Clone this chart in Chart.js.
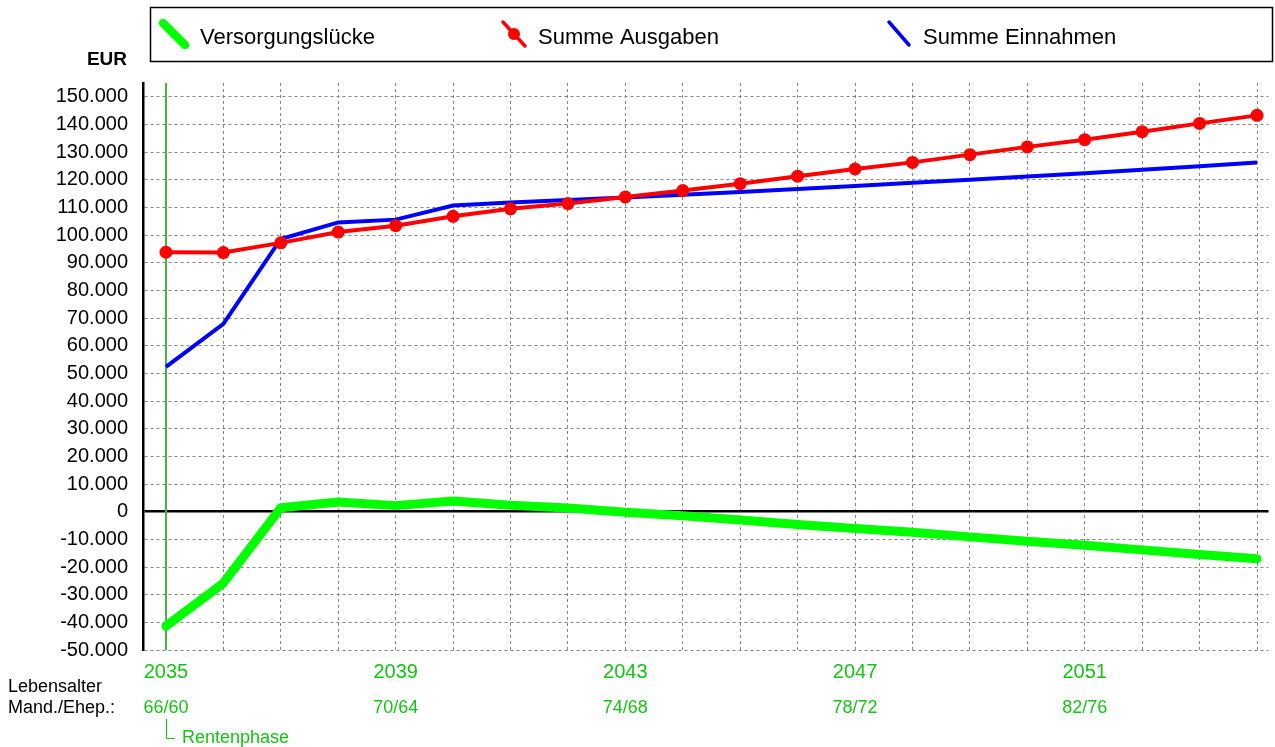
<!DOCTYPE html>
<html>
<head>
<meta charset="utf-8">
<script src="https://cdn.jsdelivr.net/npm/chart.js"></script>
<style>
  body { margin: 0; background: #fff; }
  canvas { display: block; }
</style>
</head>
<body>
<canvas id="chart" width="1275" height="747"></canvas>
<script>
// values (EUR per year)
const years = [2035, 2036, 2037, 2038, 2039, 2040, 2041, 2042, 2043, 2044,
               2045, 2046, 2047, 2048, 2049, 2050, 2051, 2052, 2053, 2054];
const versorgungsluecke = [-41400, -25800, 1400, 3500, 2200, 3900, 2300, 1300, -200, -1500,
                           -3000, -4600, -6100, -7400, -9100, -10700, -12100, -13800, -15500, -17000];
const summeAusgaben = [93800, 93700, 97200, 101100, 103400, 106800, 109500, 111400, 113800, 116100,
                       118600, 121300, 123900, 126300, 129100, 131900, 134500, 137400, 140400, 143300];
const summeEinnahmen = [52400, 67900, 98600, 104600, 105600, 110700, 111800, 112700, 113600, 114600,
                        115600, 116700, 117800, 118900, 120000, 121200, 122400, 123600, 124900, 126300];

const labelYears = [2035, 2039, 2043, 2047, 2051];
const ages = ['66/60', '70/64', '74/68', '78/72', '82/76'];
const yTicks = [-50000, -40000, -30000, -20000, -10000, 0, 10000, 20000, 30000, 40000, 50000,
                60000, 70000, 80000, 90000, 100000, 110000, 120000, 130000, 140000, 150000];

const FONT = 'Arial, "Liberation Sans", sans-serif';
const GREEN_TEXT = '#14c414';
const GRID = '#858585';

function fmt(v) {
    let s = Math.abs(v).toString().replace(/\B(?=(\d{3})+(?!\d))/g, '.');
    return (v < 0 ? '-' : '') + s;
}

function isZero(ctx) {
    return ctx.tick && ctx.tick.value === 0;
}

// legend box, axis unit, age row etc.
const decor = {
    id: 'decor',
    beforeDatasetsDraw(chart) {
        let ctx = chart.ctx;
        let area = chart.chartArea;
        let x = Math.round(chart.scales.x.getPixelForValue(years[0]));
        ctx.save();
        ctx.setLineDash([]);
        ctx.strokeStyle = '#40b840';
        ctx.lineWidth = 2;
        ctx.beginPath();
        ctx.moveTo(x, area.top);
        ctx.lineTo(x, area.bottom);
        ctx.stroke();
        ctx.restore();
    },
    afterDraw(chart) {
        let ctx = chart.ctx;
        let ds = chart.data.datasets;
        ctx.save();
        ctx.setLineDash([]);

        // legend
        ctx.strokeStyle = '#000';
        ctx.lineWidth = 1.5;
        ctx.strokeRect(150.5, 7.5, 1122, 54);

        ctx.lineCap = 'round';
        ctx.strokeStyle = '#00ff00';
        ctx.lineWidth = 8.5;
        ctx.beginPath(); ctx.moveTo(163, 23); ctx.lineTo(185, 45); ctx.stroke();

        ctx.strokeStyle = '#ff0000';
        ctx.lineWidth = 3.5;
        ctx.beginPath(); ctx.moveTo(503, 22); ctx.lineTo(525, 46); ctx.stroke();
        ctx.fillStyle = '#ff0000';
        ctx.beginPath(); ctx.arc(514, 34, 6, 0, Math.PI * 2); ctx.fill();

        ctx.strokeStyle = '#0000ff';
        ctx.beginPath(); ctx.moveTo(889, 22); ctx.lineTo(909, 45); ctx.stroke();

        ctx.fillStyle = '#000';
        ctx.font = '22px ' + FONT;
        ctx.textBaseline = 'alphabetic';
        ctx.textAlign = 'left';
        ctx.fillText(ds[0].label, 200, 44);
        ctx.fillText(ds[1].label, 538, 44);
        ctx.fillText(ds[2].label, 923, 44);

        // unit
        ctx.font = 'bold 19px ' + FONT;
        ctx.textAlign = 'right';
        ctx.fillText('EUR', 127, 65);

        // age rows
        ctx.font = '18px ' + FONT;
        ctx.textAlign = 'left';
        ctx.fillText('Lebensalter', 8, 692);
        ctx.fillText('Mand./Ehep.:', 8, 713);

        ctx.fillStyle = GREEN_TEXT;
        ctx.textAlign = 'center';
        labelYears.forEach((y, i) => {
            ctx.fillText(ages[i], chart.scales.x.getPixelForValue(y), 713);
        });

        let x0 = Math.round(chart.scales.x.getPixelForValue(years[0])) + 0.5;
        ctx.strokeStyle = GREEN_TEXT;
        ctx.lineWidth = 1;
        ctx.lineCap = 'butt';
        ctx.beginPath();
        ctx.moveTo(x0, 719);
        ctx.lineTo(x0, 738.5);
        ctx.lineTo(x0 + 8, 738.5);
        ctx.stroke();
        ctx.textAlign = 'left';
        ctx.fillText('Rentenphase', 182, 743);

        ctx.restore();
    }
};

new Chart(document.getElementById('chart'), {
    type: 'line',
    data: {
        datasets: [
            {
                label: 'Versorgungslücke',
                data: years.map((y, i) => ({ x: y, y: versorgungsluecke[i] })),
                borderColor: '#00ff00',
                borderWidth: 9,
                borderCapStyle: 'round',
                borderJoinStyle: 'round',
                pointRadius: 0,
                order: 0
            },
            {
                label: 'Summe Ausgaben',
                data: years.map((y, i) => ({ x: y, y: summeAusgaben[i] })),
                borderColor: '#ff0000',
                borderWidth: 4,
                pointRadius: 6.5,
                pointBackgroundColor: '#ff0000',
                pointBorderWidth: 0,
                order: 1
            },
            {
                label: 'Summe Einnahmen',
                data: years.map((y, i) => ({ x: y, y: summeEinnahmen[i] })),
                borderColor: '#0000ff',
                borderWidth: 4,
                pointRadius: 0,
                order: 2
            }
        ]
    },
    options: {
        responsive: false,
        devicePixelRatio: 1,
        animation: false,
        clip: false,
        layout: { padding: { top: 83, left: 0, right: 0, bottom: 0 } },
        plugins: {
            legend: { display: false },
            tooltip: { enabled: false }
        },
        scales: {
            x: {
                type: 'linear',
                min: 2034.6,
                max: 2054.2,
                afterBuildTicks: scale => { scale.ticks = years.map(v => ({ value: v })); },
                afterFit: scale => { scale.height = 97; },
                grid: { color: GRID, lineWidth: 1, drawTicks: false },
                border: { display: false, dash: [3, 3] },
                ticks: {
                    autoSkip: false,
                    maxRotation: 0,
                    padding: 10,
                    color: GREEN_TEXT,
                    font: { family: FONT, size: 20 },
                    callback: v => labelYears.includes(v) ? String(v) : ''
                }
            },
            y: {
                min: -50000,
                max: 155000,
                afterBuildTicks: scale => { scale.ticks = yTicks.map(v => ({ value: v })); },
                afterFit: scale => { scale.width = 143; },
                grid: {
                    color: ctx => isZero(ctx) ? '#000' : GRID,
                    lineWidth: ctx => isZero(ctx) ? 2.5 : 1,
                    drawTicks: false
                },
                border: {
                    display: true,
                    color: '#000',
                    width: 2.5,
                    dash: ctx => isZero(ctx) ? [] : [3, 3]
                },
                ticks: {
                    padding: 15,
                    color: '#000',
                    font: { family: FONT, size: 20 },
                    callback: v => fmt(v)
                }
            }
        }
    },
    plugins: [decor]
});
</script>
</body>
</html>
